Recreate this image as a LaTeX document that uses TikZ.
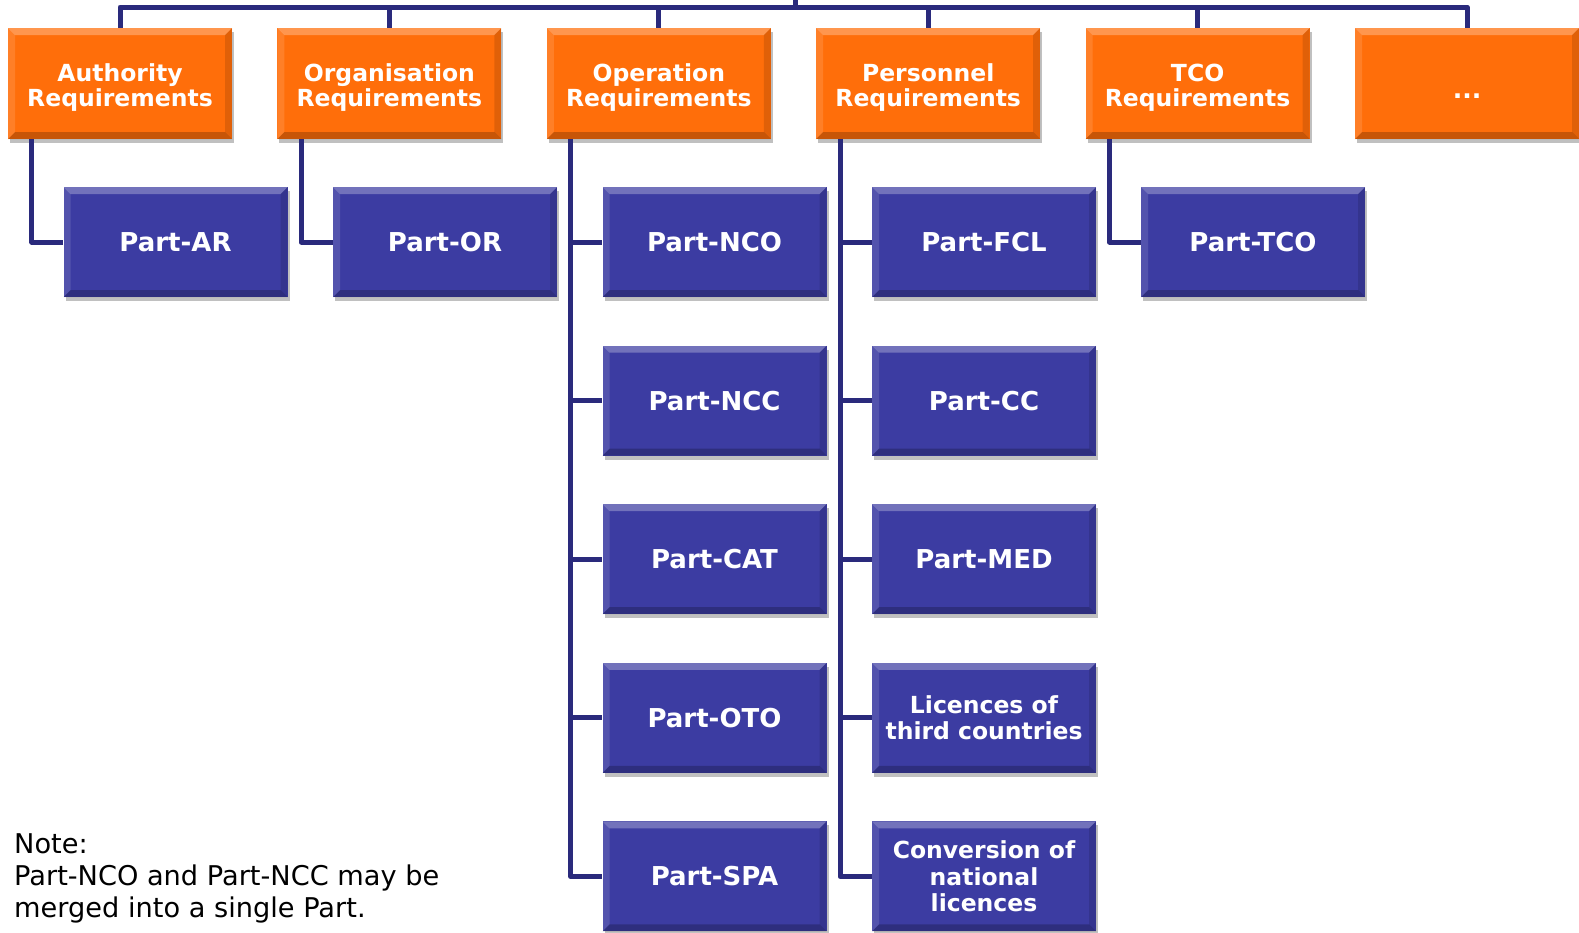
\documentclass[tikz,border=0pt]{standalone}
\usepackage{fontspec}
\setmainfont{DejaVu Sans}
\usetikzlibrary{shadows}
\definecolor{orangefill}{HTML}{FF6E0A}
\definecolor{bluefill}{HTML}{3C3CA2}
\definecolor{linecol}{HTML}{2A2A7C}
\newcommand{\topstrut}[1]{\rule{0pt}{#1}}
\tikzset{
  bevel/.style={path picture={
    \fill[white,opacity=0.28] (path picture bounding box.north west) -- (path picture bounding box.north east) -- ([xshift=-7pt,yshift=-7pt]path picture bounding box.north east) -- ([xshift=7pt,yshift=-7pt]path picture bounding box.north west) -- cycle;
    \fill[black,opacity=0.22] (path picture bounding box.south west) -- (path picture bounding box.south east) -- ([xshift=-7pt,yshift=7pt]path picture bounding box.south east) -- ([xshift=7pt,yshift=7pt]path picture bounding box.south west) -- cycle;
    \fill[white,opacity=0.12] (path picture bounding box.north west) -- (path picture bounding box.south west) -- ([xshift=7pt,yshift=7pt]path picture bounding box.south west) -- ([xshift=7pt,yshift=-7pt]path picture bounding box.north west) -- cycle;
    \fill[black,opacity=0.12] (path picture bounding box.north east) -- (path picture bounding box.south east) -- ([xshift=-7pt,yshift=7pt]path picture bounding box.south east) -- ([xshift=-7pt,yshift=-7pt]path picture bounding box.north east) -- cycle;
  }},
  basebox/.style={rectangle, minimum width=224pt, minimum height=111pt, inner sep=0pt,
    text=white, align=center, bevel,
    drop shadow={shadow xshift=2pt, shadow yshift=-4pt, opacity=0.35, fill=black!70}},
  headbox/.style={basebox, fill=orangefill, font=\bfseries\fontsize{23.5}{25.5}\selectfont},
  partbox/.style={basebox, fill=bluefill, minimum height=110pt, font=\bfseries\fontsize{26}{28}\selectfont},
  smallpart/.style={font=\bfseries\fontsize{23.5}{26.5}\selectfont},
  conn/.style={draw=linecol, line width=5pt, line join=round}
}
\begin{document}
\begin{tikzpicture}[x=1pt,y=-1pt]
\useasboundingbox[fill=white] (0,0) rectangle (1579,932);
% header boxes
\node[headbox] (auth) at (120,83.5) {\topstrut{26pt}Authority\\Requirements};
\node[headbox] (org) at (389.4,83.5) {\topstrut{26pt}Organisation\\Requirements};
\node[headbox] (op) at (658.8,83.5) {\topstrut{26pt}Operation\\Requirements};
\node[headbox] (pers) at (928.2,83.5) {\topstrut{26pt}Personnel\\Requirements};
\node[headbox] (tco) at (1197.6,83.5) {\topstrut{26pt}TCO\\Requirements};
\node[headbox, font=\bfseries\fontsize{25}{27}\selectfont] (dots) at (1467,83.5) {\topstrut{29pt}...};
% part boxes
\node[partbox] (ar) at (175.5,242) {Part-AR};
\node[partbox] (or) at (445,242) {Part-OR};
\node[partbox] (nco) at (714.5,242) {Part-NCO};
\node[partbox] (ncc) at (714.5,400.6) {Part-NCC};
\node[partbox] (cat) at (714.5,559.2) {Part-CAT};
\node[partbox] (oto) at (714.5,717.8) {Part-OTO};
\node[partbox] (spa) at (714.5,876.4) {Part-SPA};
\node[partbox] (fcl) at (984,242) {Part-FCL};
\node[partbox] (cc) at (984,400.6) {Part-CC};
\node[partbox] (med) at (984,559.2) {Part-MED};
\node[partbox,smallpart] (lic) at (984,717.8) {Licences of\\third countries};
\node[partbox,smallpart] (conv) at (984,876.4) {Conversion of\\national\\licences};
\node[partbox] (ptco) at (1253,242) {Part-TCO};
% top bar
\coordinate (root) at (795,0);
\coordinate (bar) at (795,7);
\draw[conn] (root) -- (bar);
\foreach \b in {auth,org,op,pers,tco,dots} {
  \draw[conn] (bar) -| (\b.north);
}
% children connectors
\draw[conn] ([xshift=24pt]auth.south west) |- (ar.west);
\draw[conn] ([xshift=24pt]org.south west) |- (or.west);
\foreach \c in {nco,ncc,cat,oto,spa} {
  \draw[conn] ([xshift=24pt]op.south west) |- (\c.west);
}
\foreach \c in {fcl,cc,med,lic,conv} {
  \draw[conn] ([xshift=24pt]pers.south west) |- (\c.west);
}
\draw[conn] ([xshift=24pt]tco.south west) |- (ptco.west);
% note
\node[anchor=north west, inner sep=0pt, align=left, font=\fontsize{27.2}{32.4}\selectfont] (note) at (14,833)
  {Note:\\Part-NCO and Part-NCC may be\\merged into a single Part.};
\end{tikzpicture}
\end{document}
